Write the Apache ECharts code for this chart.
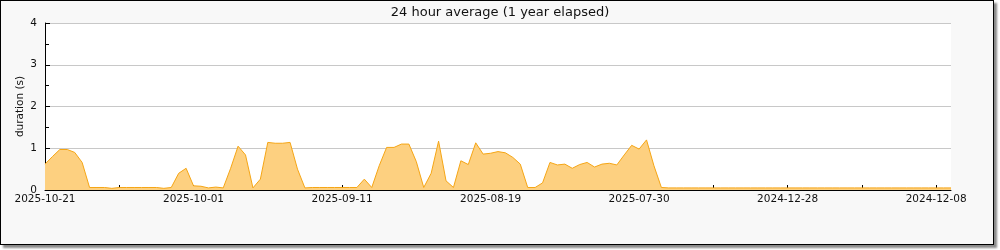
<!DOCTYPE html>
<html><head><meta charset="utf-8">
<script src="https://cdn.jsdelivr.net/npm/echarts@6/dist/echarts.min.js"></script>
<style>
html,body{margin:0;padding:0;background:#fff;}
#frame{position:absolute;left:0;top:0;width:994px;height:245px;box-sizing:border-box;border:1px solid #000;background:#f8f8f8;box-shadow:3px 3px 2px #8a8a8a;}
#chart{position:absolute;left:0;top:0;width:1000px;height:250px;}
</style></head>
<body><div id="frame"></div><div id="chart"></div>
<script>
const titleText = '24 hour average (1 year elapsed)';
const yAxisName = 'duration (s)';
const tickLabels = ['2025-10-21','2025-10-01','2025-09-11','2025-08-19','2025-07-30','2024-12-28','2024-12-08'];
const values = [
  0.62,0.80,0.97,0.97,0.90,0.66,0.06,0.06,0.06,0.04,
  0.06,0.06,0.06,0.06,0.06,0.06,0.04,0.06,0.40,0.52,
  0.10,0.09,0.05,0.07,0.05,0.52,1.05,0.84,0.05,0.26,
  1.14,1.12,1.12,1.14,0.50,0.05,0.06,0.06,0.06,0.06,
  0.06,0.06,0.06,0.26,0.06,0.58,1.02,1.02,1.10,1.10,
  0.68,0.06,0.40,1.17,0.22,0.06,0.70,0.61,1.13,0.86,
  0.88,0.92,0.89,0.78,0.62,0.06,0.06,0.17,0.66,0.60,
  0.62,0.52,0.61,0.66,0.55,0.62,0.64,0.60,0.84,1.07,
  0.98,1.20,0.58,0.06,0.05,0.05,0.05,0.05,0.05,0.05,
  0.05,0.05,0.05,0.05,0.05,0.05,0.05,0.05,0.05,0.05,
  0.05,0.05,0.05,0.05,0.05,0.05,0.05,0.05,0.05,0.05,
  0.05,0.05,0.05,0.05,0.05,0.05,0.05,0.05,0.05,0.05,
  0.05,0.05,0.05
];
const labelStep = 20;

const chart = echarts.init(document.getElementById('chart'), null, {renderer:'canvas'});
const font = 'DejaVu Sans';
chart.setOption({
  backgroundColor: 'transparent',
  animation: false,
  title: {text: titleText, left: 'center', top: 1, textStyle: {fontFamily: font, fontSize: 13, fontWeight: 'normal', color: '#111'}},
  grid: {left: 45, top: 23, width: 906, height: 167, show: true, backgroundColor: '#fff', borderWidth: 0},
  xAxis: {
    type: 'value', min: 0, max: values.length - 1, interval: 10,
    axisLine: {show: true, lineStyle: {color: '#000', width: 1}},
    axisTick: {show: true, inside: true, length: 5, lineStyle: {color: '#000'}},
    splitLine: {show: false},
    axisLabel: {fontFamily: font, fontSize: 10.5, color: '#111', margin: 4, showMaxLabel: false,
      formatter: v => (v % labelStep === 0 ? (tickLabels[v / labelStep] || '') : '')}
  },
  yAxis: {
    type: 'value', min: 0, max: 4, interval: 1,
    name: yAxisName, nameLocation: 'middle', nameGap: 19, nameRotate: 90, nameMoveOverlap: false,
    nameTextStyle: {fontFamily: font, fontSize: 10.5, color: '#111'},
    axisLine: {show: true, lineStyle: {color: '#000', width: 1}},
    axisTick: {show: true, inside: true, length: 5, lineStyle: {color: '#000'}},
    minorTick: {show: true, splitNumber: 2, length: 4, lineStyle: {color: '#000'}},
    splitLine: {show: true, lineStyle: {color: '#c8c8c8', width: 1}},
    axisLabel: {fontFamily: font, fontSize: 10.5, color: '#111', margin: 8}
  },
  series: [{
    type: 'line', data: values.map((v, i) => [i, v]), symbol: 'none', smooth: false,
    lineStyle: {color: '#f5a515', width: 1},
    areaStyle: {color: '#fdd080', opacity: 1}
  }]
});
</script></body></html>
